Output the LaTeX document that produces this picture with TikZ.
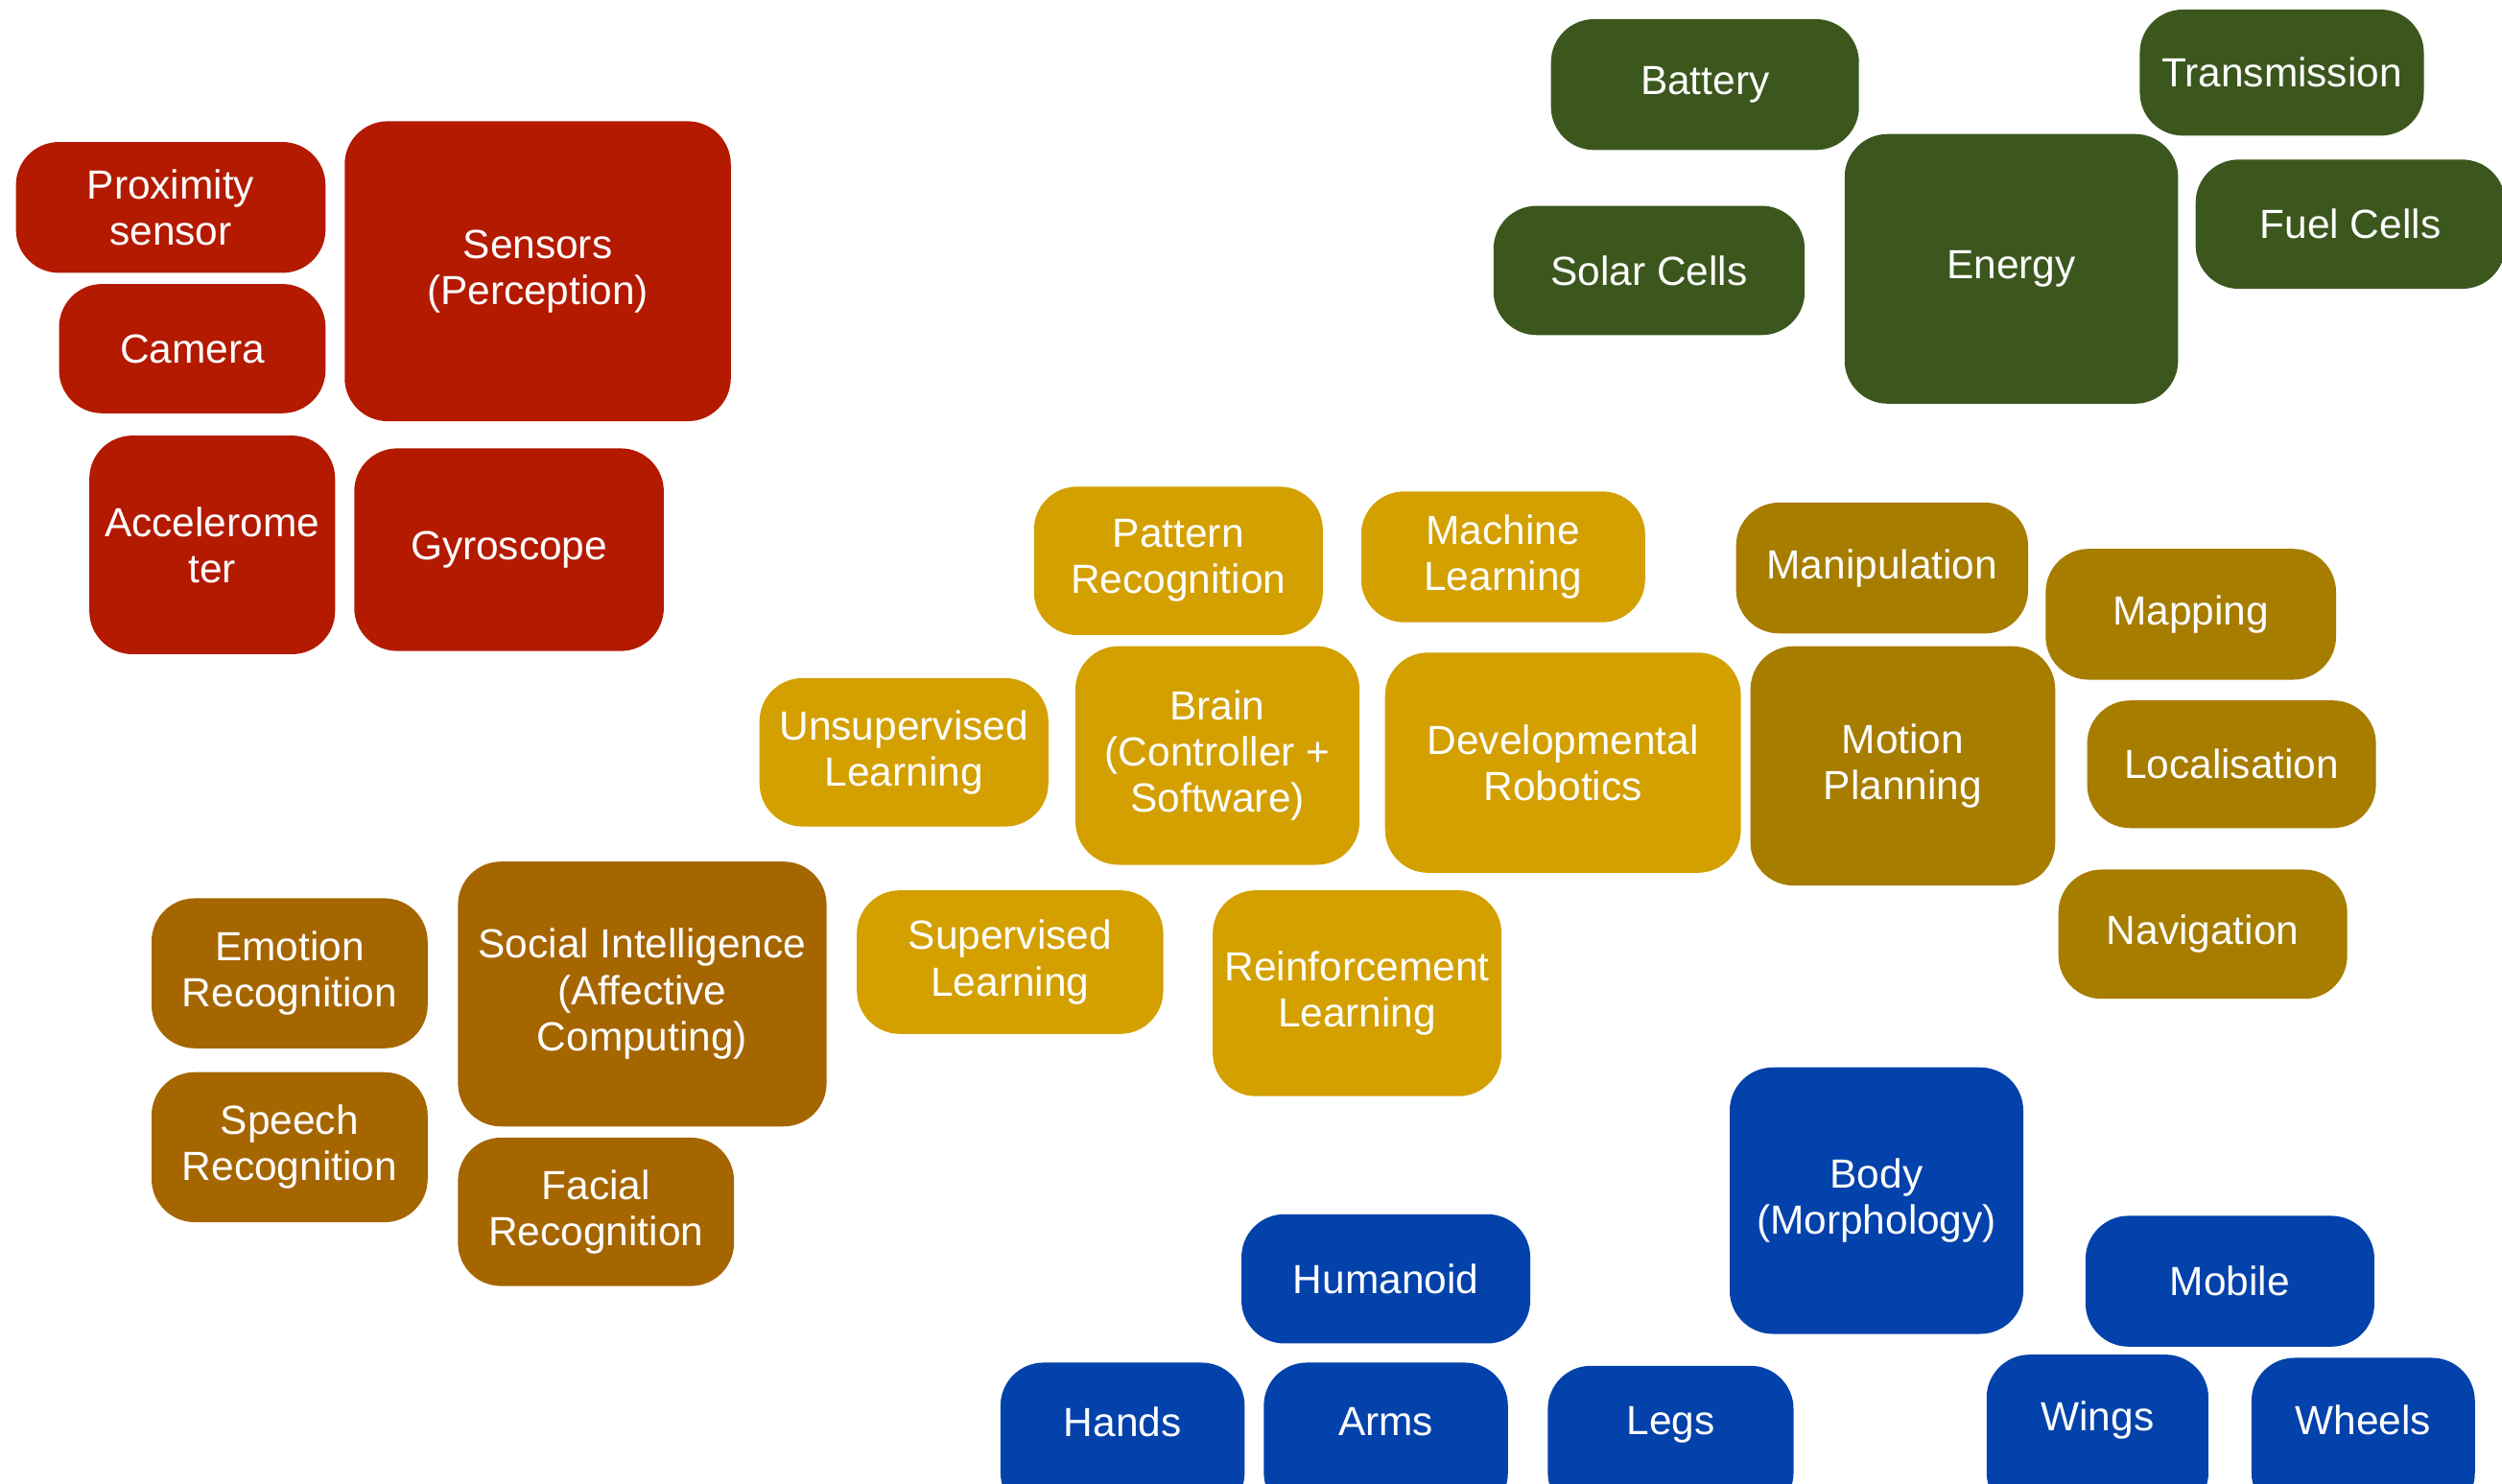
\documentclass[tikz,border=0pt]{standalone}
\usepackage{fontspec}
\setmainfont{Liberation Sans}
\definecolor{sensred}{RGB}{179,26,0}
\definecolor{energygreen}{RGB}{59,87,29}
\definecolor{brainyellow}{RGB}{211,160,0}
\definecolor{motiongold}{RGB}{167,125,0}
\definecolor{socialbrown}{RGB}{165,102,0}
\definecolor{bodyblue}{RGB}{3,66,170}
\tikzset{
  blob/.style={rounded corners=27pt, inner sep=0pt, align=center, text=white,
    font=\fontsize{25.5}{29}\selectfont},
  blobtext/.style={inner sep=0pt, align=center, text=white,
    font=\fontsize{25.5}{29}\selectfont}
}
% #1 name, #2 colour, #3 x1, #4 y1, #5 x2, #6 y2, #7 label
\newcommand\blob[7]{%
  \pgfmathsetmacro\bw{#5-#3}\pgfmathsetmacro\bh{#6-#4}%
  \node[blob, fill=#2, minimum width=\bw pt, minimum height=\bh pt] (#1)
    at ({(#3+#5)/2},{(#4+#6)/2}) {#7};}
% boxes that run off the lower edge: label placed at its own height #7
\newcommand\blobcut[7]{%
  \fill[#2, rounded corners=27pt] (#3,#4) rectangle (#5,950);
  \node[blobtext] (#1) at ({(#3+#5)/2},#6) {#7};}
\begin{document}
\begin{tikzpicture}[x=1pt,y=-1pt]
\useasboundingbox (0,0) rectangle (1568,930);
\clip (0,0) rectangle (1568,930);
% perception
\blob{prox}{sensred}{10}{89}{204}{171}{Proximity\\sensor}
\blob{sensors}{sensred}{216}{76}{458}{264}{Sensors\\(Perception)}
\blob{camera}{sensred}{37}{178}{204}{259}{Camera}
\blob{accel}{sensred}{56}{273}{210}{410}{Accelerome\\ter}
\blob{gyro}{sensred}{222}{281}{416}{408}{Gyroscope}
% energy
\blob{battery}{energygreen}{972}{12}{1165}{94}{Battery}
\blob{transmission}{energygreen}{1341}{6}{1519}{85}{Transmission}
\blob{energy}{energygreen}{1156}{84}{1365}{253}{Energy}
\blob{solar}{energygreen}{936}{129}{1131}{210}{Solar Cells}
\blob{fuel}{energygreen}{1376}{100}{1570}{181}{Fuel Cells}
% brain
\blob{pattern}{brainyellow}{648}{305}{829}{398}{Pattern\\Recognition}
\blob{ml}{brainyellow}{853}{308}{1031}{390}{Machine\\Learning}
\blob{unsup}{brainyellow}{476}{425}{657}{518}{Unsupervised\\Learning}
\blob{brain}{brainyellow}{674}{405}{852}{542}{Brain\\(Controller +\\Software)}
\blob{devel}{brainyellow}{868}{409}{1091}{547}{Developmental\\Robotics}
\blob{sup}{brainyellow}{537}{558}{729}{648}{Supervised\\Learning}
\blob{reinf}{brainyellow}{760}{558}{941}{687}{Reinforcement\\Learning}
% motion
\blob{manip}{motiongold}{1088}{315}{1271}{397}{Manipulation}
\blob{mapping}{motiongold}{1282}{344}{1464}{426}{Mapping}
\blob{motion}{motiongold}{1097}{405}{1288}{555}{Motion\\Planning}
\blob{local}{motiongold}{1308}{439}{1489}{519}{Localisation}
\blob{nav}{motiongold}{1290}{545}{1471}{626}{Navigation}
% social
\blob{emotion}{socialbrown}{95}{563}{268}{657}{Emotion\\Recognition}
\blob{social}{socialbrown}{287}{540}{518}{706}{Social Intelligence\\(Affective\\Computing)}
\blob{speech}{socialbrown}{95}{672}{268}{766}{Speech\\Recognition}
\blob{facial}{socialbrown}{287}{713}{460}{806}{Facial\\Recognition}
% body
\blob{body}{bodyblue}{1084}{669}{1268}{836}{Body\\(Morphology)}
\blob{humanoid}{bodyblue}{778}{761}{959}{842}{Humanoid}
\blob{mobile}{bodyblue}{1307}{762}{1488}{844}{Mobile}
\blobcut{hands}{bodyblue}{627}{854}{780}{891}{Hands}
\blobcut{arms}{bodyblue}{792}{854}{945}{891}{Arms}
\blobcut{legs}{bodyblue}{970}{856}{1124}{893}{Legs}
\blobcut{wings}{bodyblue}{1245}{849}{1384}{890}{Wings}
\blobcut{wheels}{bodyblue}{1411}{851}{1551}{890}{Wheels}
\end{tikzpicture}
\end{document}
